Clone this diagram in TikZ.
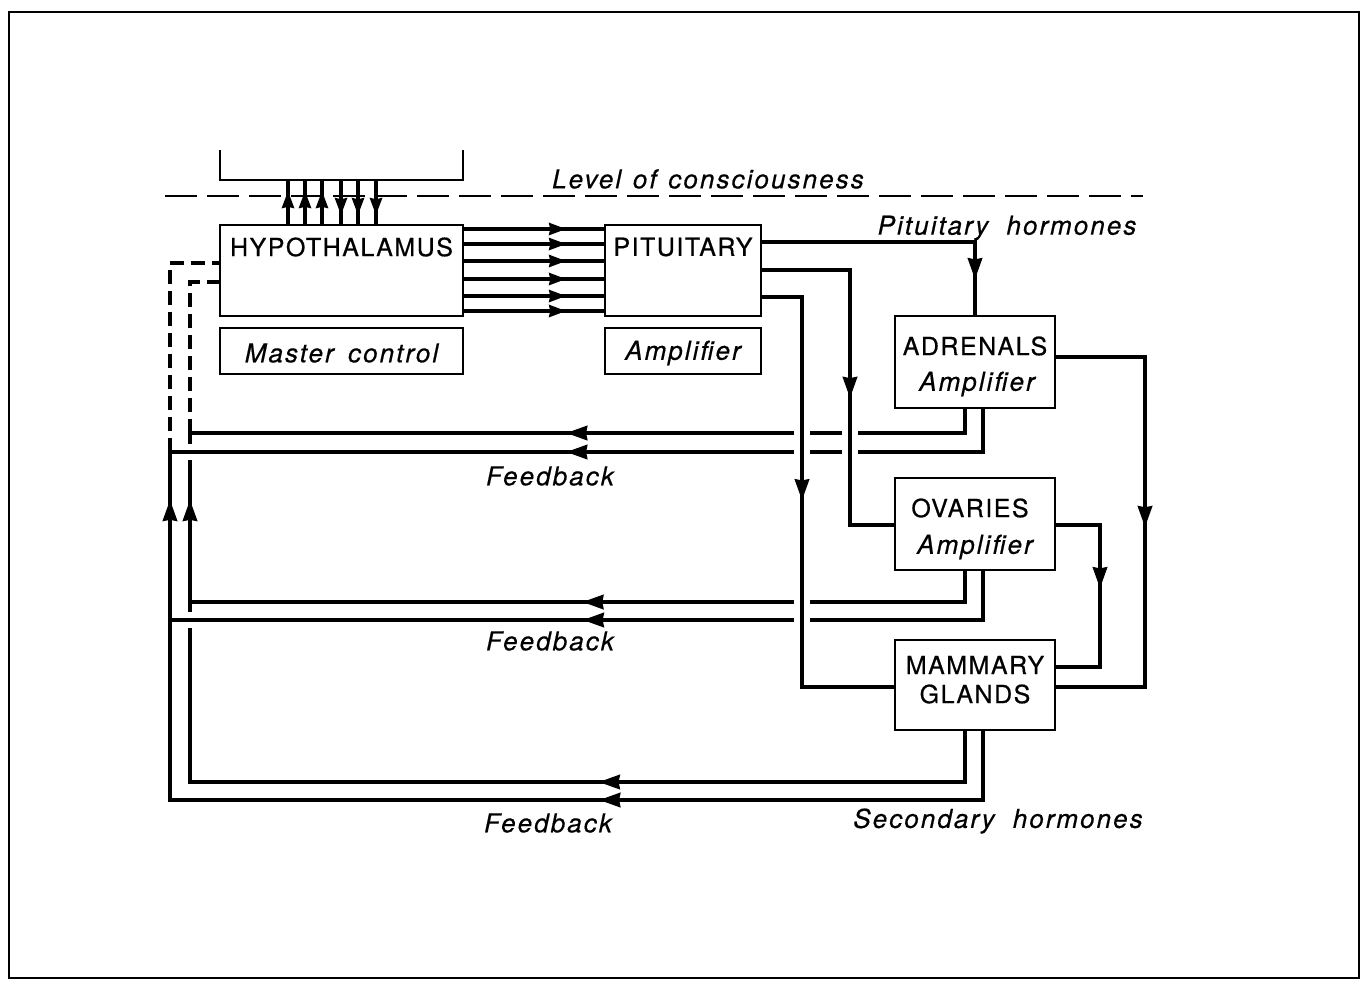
\documentclass[tikz,border=0pt]{standalone}
\usepackage{fontspec}
\setmainfont{TeX Gyre Heros}
\newfontfamily\labfont{TeX Gyre Heros}[LetterSpace=6,FakeBold=0.6]
\newfontfamily\itlfont{TeX Gyre Heros}[LetterSpace=8,FakeBold=0.5]
\usetikzlibrary{arrows.meta,decorations.markings}
\tikzset{
  every node/.style={font=\labfont\fontsize{12.5}{19}\selectfont, inner sep=0pt},
  itl/.style={font=\itlfont\fontsize{13}{15}\selectfont\itshape},
  box/.style={draw, line width=1.1pt, inner sep=0pt, align=center},
  conn/.style={line width=1.7pt, line join=miter},
  thinline/.style={line width=1.1pt},
  tipshape/.tip={Stealth[length=10.5pt,width=7.2pt,inset=0.6pt]},
  smalltip/.tip={Stealth[length=8.5pt,width=6pt,inset=0.6pt]},
  arrowat/.style={postaction={decorate}, decoration={markings,
      mark=at position #1 with {\arrow{tipshape}}}},
  smallarrowat/.style={postaction={decorate}, decoration={markings,
      mark=at position #1 with {\arrow{smalltip}}}},
  arrowtwo/.style 2 args={postaction={decorate}, decoration={markings,
      mark=at position #1 with {\arrow{tipshape}},
      mark=at position #2 with {\arrow{tipshape}}}},
  halo/.style={preaction={draw=white, line width=8pt, shorten <=#1, shorten >=#1}},
  dashline/.style={line width=1.6pt, dash pattern=on 7pt off 3.5pt},
}
\begin{document}
\begin{tikzpicture}[x=0.5pt, y=-0.5pt]
\useasboundingbox (0,0) rectangle (1367,982);
% frame
\draw[line width=0.9pt] (9,12) rectangle (1359,978);

% boxes
\node[box, minimum width=121.5pt, minimum height=45.5pt] (hyp) at (341.5,270.5) {};
\node (hyptext) at (341.5,247) {HYPOTHALAMUS};
\node[box, minimum width=121.5pt, minimum height=23pt] (mc) at (341.5,351) {};
\node[itl] (mctext) at (341.5,353) {Master\hspace{0.55em}control};
\node[box, minimum width=78pt, minimum height=45.5pt] (pit) at (683,270.5) {};
\node (pittext) at (683,247) {PITUITARY};
\node[box, minimum width=78pt, minimum height=23pt] (amp) at (683,351) {};
\node[itl] (amptext) at (683,353) {Amplifier};
\node[box, minimum width=80pt, minimum height=46pt] (adr) at (975,362) {};
\node (adrtext) at (975,346) {ADRENALS};
\node[itl] (adramp) at (977,384) {Amplifier};
\node[box, minimum width=80pt, minimum height=46pt] (ova) at (975,524) {};
\node (ovatext) at (970,508) {OVARIES};
\node[itl] (ovaamp) at (975,547) {Amplifier};
\node[box, minimum width=80pt, minimum height=45pt] (mam) at (975,685) {};
\node (mamtext) at (975,665) {MAMMARY};
\node (mamtext2) at (975,694) {GLANDS};

% consciousness bracket and line
\coordinate (brL) at (220,150);
\coordinate (brR) at (463,150);
\coordinate (brB) at (341.5,180);
\draw[thinline] (brL) -- (brL |- brB) -- (brR |- brB) -- (brR);
\coordinate (lcL) at (165,196);
\coordinate (lcR) at (1143,196);
\draw[line width=1pt, dash pattern=on 16pt off 5pt] (lcL) -- (lcR);
\node[itl] (loc) at (708,179) {Level\hspace{0.45em}of\hspace{0.45em}consciousness};

% hypothalamus <-> consciousness
\foreach \xx in {288,305,322}
  \draw[conn, smallarrowat=0.75] (hyp.north -| \xx,0) -- (brB -| \xx,0);
\foreach \xx in {341,358,376}
  \draw[conn, smallarrowat=0.8] (brB -| \xx,0) -- (hyp.north -| \xx,0);

% hypothalamus -> pituitary
\foreach \yy in {229,244,261,279,296,311}
  \draw[conn, smallarrowat=0.73] (hyp.east |- 0,\yy) -- (pit.west |- 0,\yy);

% feedback lines (inner first)
\coordinate (inL) at (190,282);
\coordinate (outL) at (170,263);
\draw[conn, arrowtwo={0.355}{0.943}] (mam.south -| 965,0) -- (965,782) -- (inL |- 0,782) -- (inL |- 0,433);
\draw[conn, arrowtwo={0.368}{0.961}] (mam.south -| 983,0) -- (983,800) -- (outL |- 0,800) -- (outL |- 0,452);
\draw[conn, arrowat=0.513] (ova.south -| 965,0) -- (965,602) -- (inL |- 0,602);
\draw[conn, arrowat=0.529] (adr.south -| 965,0) -- (965,433) -- (inL |- 0,433);
\draw[conn, halo=5pt, arrowat=0.521] (ova.south -| 983,0) -- (983,620) -- (outL |- 0,620);
\draw[conn, halo=5pt, arrowat=0.537] (adr.south -| 983,0) -- (983,452) -- (outL |- 0,452);
% dashed to hypothalamus
\draw[dashline] (inL |- 0,433) -- (inL) -- (hyp.west |- inL);
\draw[dashline] (outL |- 0,452) -- (outL) -- (hyp.west |- outL);

% pituitary hormones
\draw[conn, arrowat=0.875] (pit.east |- 0,242) -| (adr.north);
\draw[conn, halo=5pt, arrowat=0.558] (pit.east |- 0,270) -- (850,270) -- (850,525) -- (ova.west |- 0,525);
\draw[conn, halo=5pt, arrowat=0.466] (pit.east |- 0,297) -- (802,297) -- (802,687) -- (mam.west |- 0,687);
\node[itl] (ph) at (1007,228) {Pituitary\hspace{0.7em}hormones};

% gland to gland
\draw[conn, arrowat=0.51] (adr.east |- 0,357) -- (1145,357) -- (1145,687) -- (mam.east |- 0,687);
\draw[conn, arrowat=0.466] (ova.east |- 0,525) -- (1100,525) -- (1100,667) -- (mam.east |- 0,667);

% labels
\node[itl] (fb1) at (550,476) {Feedback};
\node[itl] (fb2) at (550,641) {Feedback};
\node[itl] (fb3) at (548,823) {Feedback};
\node[itl] (sh) at (998,821) {Secondary\hspace{0.7em}hormones};
\end{tikzpicture}
\end{document}
